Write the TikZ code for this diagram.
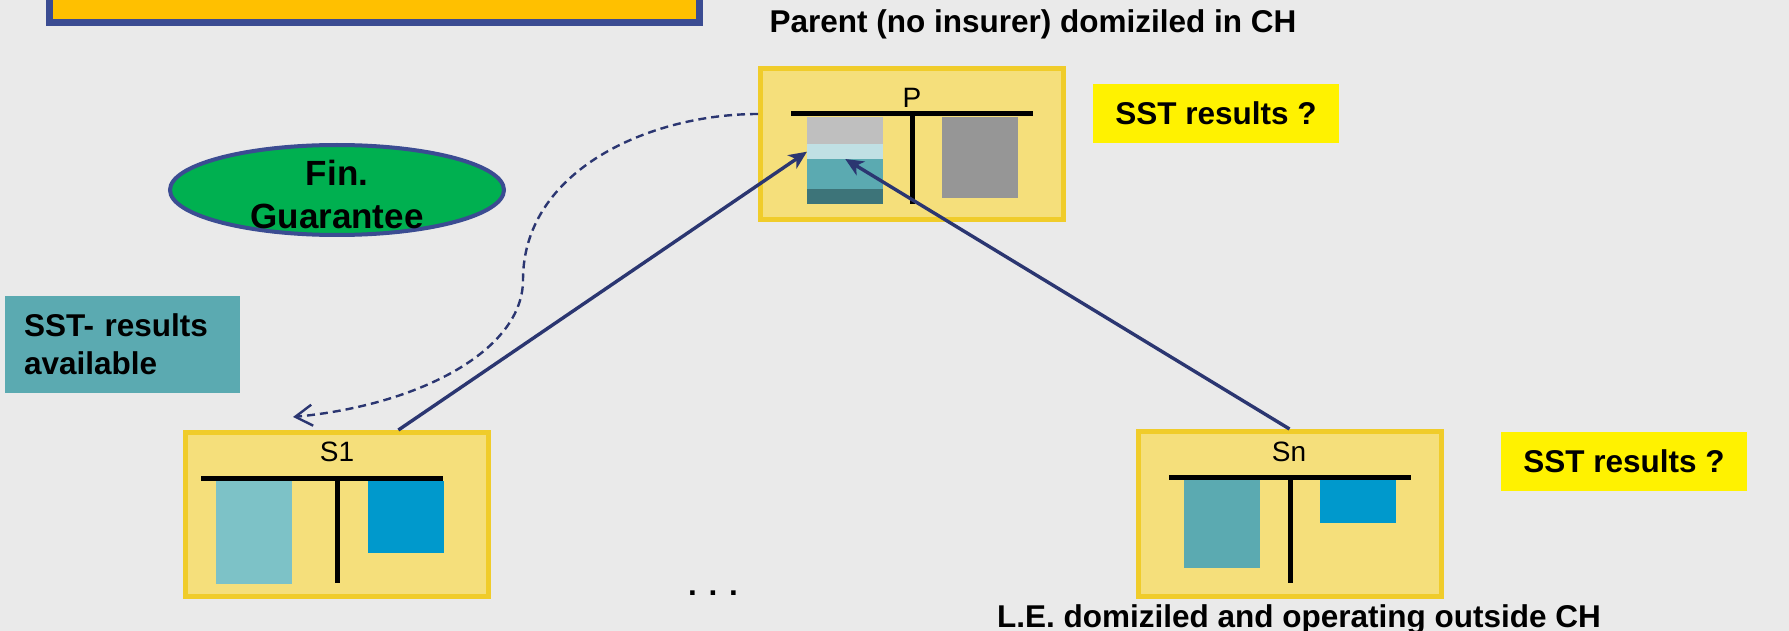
\documentclass[tikz,border=0pt]{standalone}
\usepackage{fontspec}
\setmainfont{Liberation Sans}
\usetikzlibrary{shapes.geometric,arrows.meta}

\definecolor{canvas}{HTML}{EAEAEA}
\definecolor{navy}{HTML}{2B3671}
\definecolor{frameblue}{HTML}{3B4C92}
\definecolor{amber}{HTML}{FFC000}
\definecolor{gold}{HTML}{F0CC2A}
\definecolor{sand}{HTML}{F5DF7B}
\definecolor{leaf}{HTML}{00B050}
\definecolor{sstteal}{HTML}{5BAAB1}
\definecolor{deepteal}{HTML}{3D7479}
\definecolor{ice}{HTML}{C0E0E4}
\definecolor{mist}{HTML}{7DC2C7}
\definecolor{ocean}{HTML}{0099CC}
\definecolor{cgrey}{HTML}{BFBFBF}
\definecolor{ash}{HTML}{969696}

\begin{document}
\begin{tikzpicture}[
  x=1pt, y=-1pt,
  sheet/.style={draw=gold, line width=5pt, fill=sand, minimum width=303pt, inner sep=0pt},
  tag/.style={anchor=base, inner sep=0pt, font=\fontsize{28pt}{34pt}\selectfont},
  slab/.style={anchor=north west, inner sep=0pt, minimum width=76pt},
  bar/.style={line width=5pt},
  note/.style={fill=yellow, minimum width=246pt, minimum height=59pt,
    font=\bfseries\fontsize{31.5pt}{38pt}\selectfont},
  caption/.style={anchor=base, inner sep=0pt, font=\bfseries\fontsize{31.5pt}{38pt}\selectfont},
  link/.style={-{Stealth[length=18pt, width=16pt, inset=5pt]}, line width=3.4pt, draw=navy},
  giveback/.style={-{Straight Barb[length=17pt, width=21pt]}, line width=2.4pt, draw=navy,
    dash pattern=on 8pt off 5pt},
]
  \useasboundingbox (0,0) rectangle (1789,631);
  \fill[canvas] (0,0) rectangle (1789,631);

  % header box running off the top edge
  \node[draw=frameblue, line width=7pt, fill=amber, minimum width=650pt, minimum height=150pt,
    anchor=south] (title) at (374.5,26.5) {};

  \node[ellipse, draw=frameblue, line width=4pt, fill=leaf, minimum width=334pt,
    minimum height=90pt] (guar) at (337,190) {};
  \node[align=center, font=\bfseries\fontsize{35pt}{43pt}\selectfont] (guartext) at (337,194) {Fin.\\Guarantee};

  \node[fill=sstteal, minimum width=235pt, minimum height=97pt, inner xsep=19pt, text width=197pt,
    align=left, font=\bfseries\fontsize{31.5pt}{38pt}\selectfont] (avail) at (122.5,344.5) {SST- results\\available};

  % parent
  \node[sheet, minimum height=151pt] (p) at (912,144) {};
  \node[tag] (plabel) at (912,108) {P};
  \node[slab, fill=cgrey, minimum height=27pt] (pgrey) at (807,117) {};
  \node[slab, fill=ice, minimum height=15pt] (plight) at (807,144) {};
  \node[slab, fill=sstteal, minimum height=30pt] (pteal) at (807,159) {};
  \node[slab, fill=deepteal, minimum height=15pt] (pdark) at (807,189) {};
  \node[slab, fill=ash, minimum height=81pt] (pright) at (942,117) {};
  \draw[bar] (791,114) coordinate (pbar) -- (1033,114);
  \draw[bar] (912,114) -- (912,204);

  % first subsidiary
  \node[sheet, minimum height=164pt] (s1) at (337,514.5) {};
  \node[tag] (s1label) at (337,461.5) {S1};
  \node[slab, fill=mist, minimum height=103pt] (s1left) at (216,481) {};
  \node[slab, fill=ocean, minimum height=72pt] (s1right) at (368,481) {};
  \draw[bar] (201,478) -- (443,478);
  \draw[bar] (337,478) -- (337,583);

  % last subsidiary
  \node[sheet, minimum height=165pt] (sn) at (1289.5,514) {};
  \node[tag] (snlabel) at (1289,461.5) {Sn};
  \node[slab, fill=sstteal, minimum height=88pt] (snleft) at (1184,480) {};
  \node[slab, fill=ocean, minimum height=43pt] (snright) at (1320,480) {};
  \draw[bar] (1169,477) -- (1411,477);
  \draw[bar] (1290,477) -- (1290,583);

  \node[note] (pq) at (1216,113.5) {SST results ?};
  \node[note] (snq) at (1624,461.5) {SST results ?};

  \node[caption] (parentcap) at (1033,33) {Parent (no insurer) domiziled in CH};
  \node[caption] (lecap) at (1299,627) {L.E. domiziled and operating outside CH};
  \node[caption] (dots) at (713,595) {. . .};

  \draw[link] (s1.54) -- (plight.west);
  \draw[link] (sn.north) -- (pteal.north);

  \coordinate (handback) at (293,417);
  \draw[giveback] (p.west |- pbar) .. controls (650,114) and (523,170) .. (523,280)
    .. controls (523,350) and (420,405) .. (handback);
\end{tikzpicture}
\end{document}
